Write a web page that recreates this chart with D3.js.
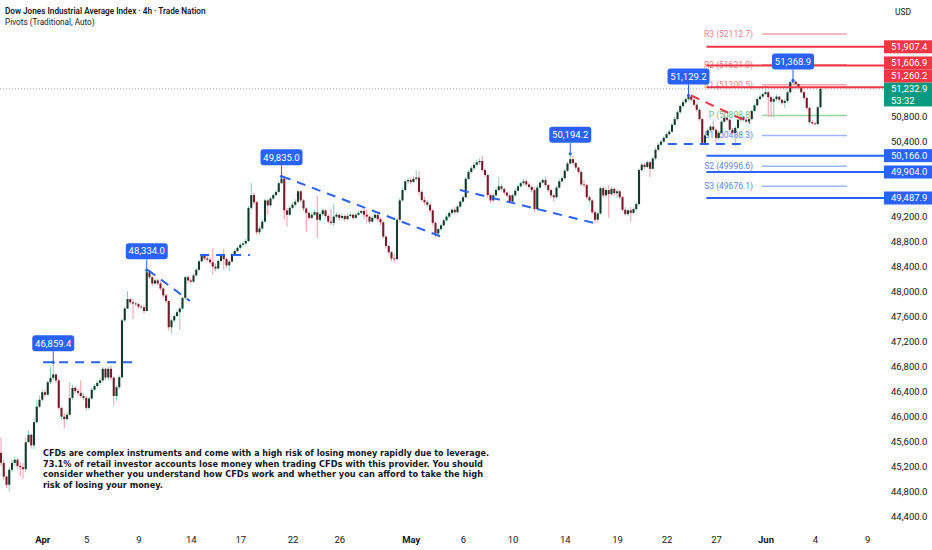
<!DOCTYPE html>
<html>
<head>
<meta charset="utf-8">
<script src="https://cdn.jsdelivr.net/npm/d3@7"></script>
<style>
  html, body { margin: 0; padding: 0; background: #fff; }
  svg { display: block; font-family: Roboto, "Noto Sans", sans-serif; }
</style>
</head>
<body>
<div id="chart"></div>
<script>
// 4h candles: [high, low, close]; open = previous close
const firstOpen = 45410;
const bars = [
  [45660,45200,45250],[45300,44980,45030],[45050,44850,44900],[45180,44795,45140],[45300,45100,45250],
  [45350,45200,45300],[45330,45150,45200],[45260,45030,45180],[45250,45000,45150],[45650,45100,45580],
  [45770,45580,45700],[45720,45480,45530],[45960,45470,45900],[46250,45880,46150],[46330,46130,46260],
  [46420,46240,46380],[46420,46300,46340],[46570,46330,46540],[46785,46510,46610],[46859.4,46570,46665],
  [46675,46530,46570],[46610,46100,46130],[46140,45950,45990],[46050,45800,45950],[46060,45930,46020],
  [46540,46000,46290],[46500,46260,46450],[46480,46370,46400],[46440,46330,46370],[46570,46290,46320],
  [46360,46250,46290],[46320,46090,46130],[46310,46100,46280],[46450,46260,46420],[46510,46400,46480],
  [46570,46460,46530],[46610,46500,46570],[46790,46530,46755],[46775,46570,46615],[46795,46570,46755],
  [46805,46570,46615],[46630,46170,46320],[46500,46250,46460],[46650,46430,46620],[47560,46590,47530],
  [47750,47500,47720],[48000,47710,47870],[47880,47780,47820],[47870,47550,47800],[47830,47760,47790],
  [47810,47720,47750],[47780,47710,47740],[47770,47640,47680],[48334,47670,48300],[48330,48190,48220],
  [48250,48080,48120],[48200,48100,48170],[48190,48090,48120],[48150,48010,48040],[48060,47890,47930],
  [47950,47800,47840],[47850,47370,47420],[47560,47320,47530],[47640,47500,47600],[47700,47580,47660],
  [47750,47380,47720],[47910,47700,47890],[48250,47870,48220],[48250,48130,48170],[48200,48110,48150],
  [48280,48130,48250],[48370,48230,48340],[48500,48320,48475],[48600,48460,48560],[48580,48490,48520],
  [48570,48470,48500],[48540,48430,48460],[48690,48260,48390],[48440,48320,48360],[48510,48340,48480],
  [48600,48460,48560],[48680,48340,48510],[48530,48370,48410],[48500,48320,48470],[48620,48460,48590],
  [48670,48560,48640],[48720,48620,48690],[48770,48660,48740],[48800,48700,48760],[48840,48730,48800],
  [49360,48780,49330],[49725,49300,49535],[49575,49380,49420],[49440,48900,48940],[49040,48900,49000],
  [49150,48970,49110],[49480,49100,49450],[49470,49220,49370],[49510,49350,49480],[49565,49450,49535],
  [49615,49510,49585],[49755,49565,49725],[49835,49705,49800],[49810,49140,49290],[49330,49030,49220],
  [49360,49200,49330],[49420,49310,49380],[49470,49350,49430],[49615,49410,49595],[49615,49420,49450],
  [49470,49280,49320],[49340,48950,49250],[49270,49130,49170],[49260,49150,49220],[49300,49200,49260],
  [49530,48850,49140],[49270,49100,49230],[49320,49200,49290],[49310,49170,49200],[49230,49080,49110],
  [49310,49050,49090],[49400,49040,49190],[49260,49160,49220],[49240,49130,49170],[49240,49150,49200],
  [49220,49110,49150],[49240,49130,49200],[49260,49180,49220],[49240,49140,49170],[49250,49150,49220],
  [49290,49200,49250],[49310,49230,49280],[49320,49150,49220],[49300,49090,49190],[49210,49070,49110],
  [49210,49090,49170],[49260,49150,49220],[49240,49110,49150],[49180,49050,49100],[49120,48840,48870],
  [48890,48680,48720],[48740,48580,48620],[48640,48480,48520],[48590,48460,48510],[49170,48490,49140],
  [49490,49100,49450],[49655,49430,49615],[49785,49595,49755],[49815,49715,49775],[49815,49705,49745],
  [49835,49735,49795],[49930,49755,49815],[49915,49530,49585],[49615,49430,49455],[49505,49380,49420],
  [49455,49350,49380],[49400,49250,49290],[49310,49050,49090],[49110,48860,48920],[49020,48870,48990],
  [49080,48960,49050],[49160,49030,49130],[49220,49110,49190],[49280,49170,49250],[49330,49220,49300],
  [49340,49230,49260],[49380,49250,49350],[49460,49330,49430],[49530,49410,49500],[49825,49480,49795],
  [49935,49775,49905],[50005,49875,49965],[50060,49935,50020],[50100,49985,50060],[50120,50020,50080],
  [50160,49905,49935],[49955,49825,49855],[49875,49490,49535],[49555,49410,49450],[49560,49430,49530],
  [49645,49520,49615],[49825,49595,49675],[49705,49595,49635],[49655,49545,49575],[49595,49500,49530],
  [49550,49410,49430],[49560,49420,49530],[49635,49510,49605],[49705,49595,49675],[49755,49655,49725],
  [49795,49695,49755],[49795,49675,49705],[49735,49635,49665],[49695,49575,49615],[49655,49270,49310],
  [49695,49290,49655],[49765,49645,49735],[49805,49715,49775],[49815,49665,49695],[49715,49575,49615],
  [49635,49490,49530],[49550,49430,49500],[49685,49480,49655],[49785,49635,49755],[49835,49735,49805],
  [49955,49785,49925],[50070,49905,50040],[50194.2,50020,50110],[50160,50010,50050],[50060,49945,49975],
  [49985,49875,49905],[49925,49675,49705],[49775,49655,49695],[49715,49470,49500],[49530,49410,49450],
  [49470,49230,49260],[49300,49080,49140],[49270,49100,49240],[49675,49220,49645],[49675,49490,49530],
  [49655,49500,49615],[49695,49170,49550],[49675,49520,49635],[49655,49520,49565],[49635,49490,49595],
  [49615,49470,49500],[49520,49270,49300],[49340,49200,49230],[49320,49200,49290],[49340,49110,49250],
  [49340,49230,49310],[49420,49280,49390],[49965,49370,49935],[50050,49915,50020],[50050,49955,49985],
  [50090,49965,50060],[50080,49825,49955],[50150,49945,50120],[50290,50100,50260],[50370,50240,50340],
  [50420,50320,50390],[50480,50370,50450],[50540,50430,50510],[50590,50480,50550],[50690,50530,50660],
  [50790,50640,50750],[50890,50730,50860],[50990,50840,50960],[51050,50930,51020],[51100,50990,51070],
  [51129.2,51040,51110],[51120,51030,51060],[51080,50950,50980],[51000,50870,50900],[50920,50720,50750],
  [50770,50340,50370],[50520,50340,50490],[50600,50470,50570],[50660,50550,50630],[50720,50550,50580],
  [50600,50370,50450],[50560,50430,50530],[50740,50510,50710],[50800,50690,50770],[50790,50710,50740],
  [50760,50550,50580],[50610,50500,50530],[50640,50310,50610],[50760,50590,50740],[50800,50710,50780],
  [50800,50720,50740],[50760,50690,50710],[50780,50690,50750],[50910,50730,50880],[51000,50860,50970],
  [51100,50950,51070],[51140,51050,51110],[51180,51090,51150],[51290,51130,51180],[51200,50790,51100],
  [51120,50780,51030],[51100,50770,51070],[51140,51040,51110],[51120,51030,51060],[51070,50980,51010],
  [51070,50930,51040],[51210,51010,51180],[51360,51160,51340],[51368.9,51300,51350],[51360,51290,51310],
  [51330,51240,51260],[51280,51160,51180],[51200,51060,51090],[51110,50900,50930],[50950,50680,50700],
  [50730,50660,50680],[50710,50650,50670],[50960,50650,50940],[51260.2,50920,51232.9]
];

const lastPrice = 51232.9;
const countdown = '53:32';

// x axis: day labels at bar positions
const tickLabels = ['Apr','5','9','14','17','22','26','May','6','10','14','19','22','27','Jun','4','9'];
const tickBars = [15, 31, 50, 69, 87, 106, 123, 149, 168, 186, 205, 224, 242, 260, 278, 296, 315];
const monthLabels = ['Apr', 'May', 'Jun'];

// y axis
const yTicks = d3.range(44400, 52001, 400);

// swing-high callouts
const calloutBars = [19, 53, 102, 207, 250, 288];
const calloutValues = [46859.4, 48334.0, 49835.0, 50194.2, 51129.2, 51368.9];

// traditional pivots (weekly)
const pivotNames = ['R3', 'R2', 'R1', 'P', 'S1', 'S2', 'S3'];
const pivotValues = [52112.7, 51621.0, 51300.5, 50808.8, 50488.3, 49996.6, 49676.1];
const pivotFrom = 276.7, pivotTo = 307.6;

// drawn horizontal levels
const resistanceLevels = [51907.4, 51606.9, 51260.2];
const supportLevels = [50166.0, 49904.0, 49487.9];
const levelFrom = 256.5;

// dashed trend lines [bar, price] -> [bar, price]
const blueTrends = [
  [[15.3, 46859.4], [48.7, 46859.4]],
  [[53.5, 48334.0], [68.7, 47840]],
  [[72.4, 48576], [90.5, 48576]],
  [[102.2, 49835.0], [160.4, 48864]],
  [[166.9, 49616], [217.1, 49072]],
  [[242.5, 50352], [269.5, 50352]]
];
const redTrends = [
  [[250.9, 51129.2], [272.4, 50688]]
];

const disclaimer = [
  'CFDs are complex instruments and come with a high risk of losing money rapidly due to leverage.',
  '73.1% of retail investor accounts lose money when trading CFDs with this provider. You should',
  'consider whether you understand how CFDs work and whether you can afford to take the high',
  'risk of losing your money.'
];

// ---------------------------------------------------------------
const W = 932, H = 550;
const plotRight = 885;
const RED = '#f23645', BLUE = '#2962ff', GREEN = '#089981';
const upBody = '#143a2c', upWick = '#8fd0b4';
const dnBody = '#761d2b', dnWick = '#f39aab';

const rows = bars.map((b, i) => ({
  i, o: i ? bars[i - 1][2] : firstOpen, h: b[0], l: b[1], c: b[2]
}));

const x = d3.scaleLinear().domain([0, bars.length - 1]).range([1, 820.5]);
const y = d3.scaleLinear().domain([44400, 52000]).range([516, 41]);

const svg = d3.select('#chart').append('svg')
  .attr('width', W).attr('height', H);

svg.append('rect').attr('width', W).attr('height', H).attr('fill', '#fff');

// pivots
const pivColor = n => n[0] === 'R' ? '#f5a3ac' : n[0] === 'P' ? '#93d39d' : '#9cb8f6';
const pivText = n => n[0] === 'R' ? '#ef7f8c' : n[0] === 'P' ? '#6cbf77' : '#5c86ee';
const piv = svg.append('g');
piv.selectAll('line').data(pivotValues).join('line')
  .attr('x1', x(pivotFrom)).attr('x2', x(pivotTo))
  .attr('y1', d => y(d)).attr('y2', d => y(d))
  .attr('stroke', (d, i) => pivColor(pivotNames[i])).attr('stroke-width', 1.5);
piv.selectAll('text').data(pivotValues).join('text')
  .attr('x', x(pivotFrom) - 9).attr('y', d => y(d))
  .attr('dy', '0.35em').attr('text-anchor', 'end')
  .attr('font-size', 8.5).attr('fill', (d, i) => pivText(pivotNames[i]))
  .text((d, i) => `${pivotNames[i]} (${d.toFixed(1)})`);

// last price dotted line
svg.append('line')
  .attr('x1', 0).attr('x2', plotRight)
  .attr('y1', y(lastPrice)).attr('y2', y(lastPrice))
  .attr('stroke', '#9598a1').attr('stroke-width', 1).attr('stroke-dasharray', '1,2');

// candles
const bw = 2.1;
const cg = svg.append('g');
cg.selectAll('line').data(rows).join('line')
  .attr('x1', d => x(d.i)).attr('x2', d => x(d.i))
  .attr('y1', d => y(d.h)).attr('y2', d => y(d.l))
  .attr('stroke', d => d.c >= d.o ? upWick : dnWick).attr('stroke-width', 1);
cg.selectAll('rect').data(rows).join('rect')
  .attr('x', d => x(d.i) - bw / 2).attr('width', bw)
  .attr('y', d => y(Math.max(d.o, d.c)))
  .attr('height', d => Math.max(0.8, Math.abs(y(d.o) - y(d.c))))
  .attr('fill', d => d.c >= d.o ? upBody : dnBody);

// dashed trend lines
const tg = svg.append('g').attr('fill', 'none').attr('stroke-width', 2)
  .attr('stroke-dasharray', '9,7');
tg.selectAll('line.b').data(blueTrends).join('line').attr('class', 'b')
  .attr('x1', d => x(d[0][0])).attr('y1', d => y(d[0][1]))
  .attr('x2', d => x(d[1][0])).attr('y2', d => y(d[1][1]))
  .attr('stroke', BLUE);
tg.selectAll('line.r').data(redTrends).join('line').attr('class', 'r')
  .attr('x1', d => x(d[0][0])).attr('y1', d => y(d[0][1]))
  .attr('x2', d => x(d[1][0])).attr('y2', d => y(d[1][1]))
  .attr('stroke', RED);

// horizontal levels
const lg = svg.append('g').attr('stroke-width', 2);
lg.selectAll('line.r').data(resistanceLevels).join('line').attr('class', 'r')
  .attr('x1', x(levelFrom)).attr('x2', plotRight)
  .attr('y1', d => y(d)).attr('y2', d => y(d)).attr('stroke', RED);
lg.selectAll('line.s').data(supportLevels).join('line').attr('class', 's')
  .attr('x1', x(levelFrom)).attr('x2', plotRight)
  .attr('y1', d => y(d)).attr('y2', d => y(d)).attr('stroke', BLUE);

// callouts
const fmt = d3.format(',.1f');
const co = svg.append('g').selectAll('g').data(calloutValues).join('g')
  .attr('transform', (d, i) => `translate(${x(calloutBars[i])},${y(d)})`);
co.append('line').attr('x1', 0).attr('x2', 0).attr('y1', 0).attr('y2', -11)
  .attr('stroke', BLUE).attr('stroke-width', 1);
co.append('circle').attr('r', 1.6).attr('fill', BLUE);
co.append('rect').attr('x', -21).attr('y', -27).attr('width', 42).attr('height', 16)
  .attr('rx', 3).attr('fill', BLUE);
co.append('text').attr('y', -19).attr('dy', '0.35em').attr('text-anchor', 'middle')
  .attr('font-size', 9.5).attr('fill', '#fff').text(d => fmt(d));

// price boxes on the axis, stacked bottom-up so they do not overlap
const boxH = 13;
const boxes = [
  ...resistanceLevels.map(v => ({ v, color: RED, h: boxH })),
  ...supportLevels.map(v => ({ v, color: BLUE, h: boxH })),
  { v: lastPrice, color: GREEN, h: 24, last: true }
].map(b => ({ ...b, top: b.last ? y(b.v) - 6.5 : y(b.v) - b.h / 2 }));
boxes.sort((a, b) => y(b.v) - y(a.v));
let prevTop = Infinity;
boxes.forEach(b => {
  if (b.top + b.h > prevTop) b.top = prevTop - b.h;
  prevTop = b.top;
});

// right axis: tick labels that would sit under a price box are left out
const freeTicks = yTicks.filter(t => boxes.every(b =>
  y(t) + 5 < b.top || y(t) - 5 > b.top + b.h));
const ya = svg.append('g').attr('transform', `translate(891,0)`)
  .call(d3.axisRight(y).tickValues(freeTicks).tickFormat(fmt).tickSize(0).tickPadding(0));
ya.select('.domain').remove();
ya.selectAll('text').attr('font-size', 9.5).attr('fill', '#131722')
  .attr('font-family', 'Roboto, "Noto Sans", sans-serif');

// bottom axis
const xa = svg.append('g').attr('transform', `translate(0,536)`)
  .call(d3.axisBottom(x).tickValues(tickBars).tickFormat((d, i) => tickLabels[i])
    .tickSize(0).tickPadding(0));
xa.select('.domain').remove();
xa.selectAll('text').attr('font-size', 9.5).attr('fill', '#131722')
  .attr('font-family', 'Roboto, "Noto Sans", sans-serif')
  .attr('font-weight', (d, i) => monthLabels.includes(tickLabels[i]) ? 700 : 400);

const bx = svg.append('g').selectAll('g').data(boxes).join('g')
  .attr('transform', d => `translate(884,${d.top})`);
bx.append('rect').attr('width', 48).attr('height', d => d.h).attr('fill', d => d.color);
bx.append('text').attr('x', 7).attr('y', 6.5).attr('dy', '0.35em')
  .attr('font-size', 9.5).attr('fill', '#fff').text(d => fmt(d.v));
bx.filter(d => d.last).append('text').attr('x', 7).attr('y', 18.5).attr('dy', '0.35em')
  .attr('font-size', 9.5).attr('fill', '#fff').text(countdown);

// header
svg.append('text').attr('x', 5).attr('y', 13.5).attr('font-size', 8.2)
  .attr('font-weight', 600).attr('fill', '#131722')
  .text('Dow Jones Industrial Average Index · 4h · Trade Nation');
svg.append('text').attr('x', 5).attr('y', 24.5).attr('font-size', 8.2)
  .attr('fill', '#131722').text('Pivots (Traditional, Auto)');
svg.append('text').attr('x', 903).attr('y', 15).attr('font-size', 8.5)
  .attr('text-anchor', 'middle').attr('fill', '#131722').text('USD');

// disclaimer
const lineLens = [446, 440, 440, 120];
svg.append('g').selectAll('text').data(disclaimer).join('text')
  .attr('x', 43).attr('y', (d, i) => 456 + i * 10.6)
  .attr('font-family', '"DejaVu Sans", sans-serif')
  .attr('font-size', 9.5).attr('font-weight', 700).attr('fill', '#131722')
  .attr('textLength', (d, i) => lineLens[i]).attr('lengthAdjust', 'spacingAndGlyphs')
  .text(d => d);
</script>
</body>
</html>
